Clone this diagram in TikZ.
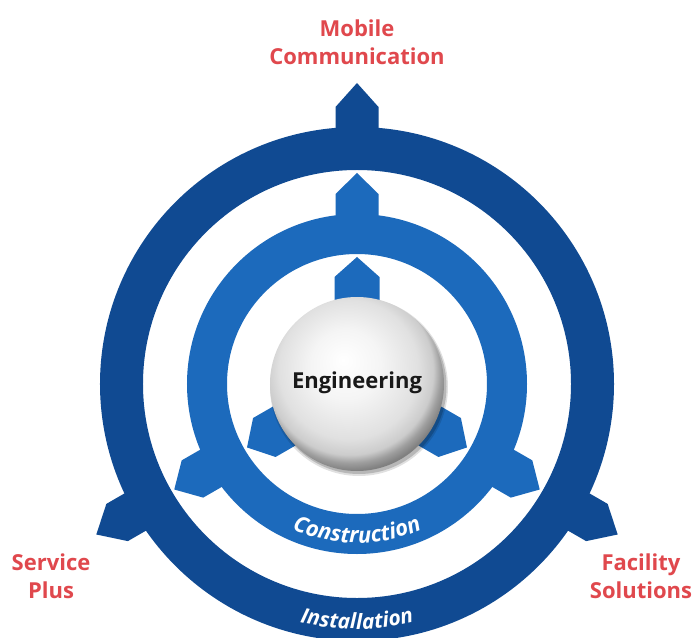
\documentclass[tikz,border=0pt]{standalone}
\usepackage{fontspec}
\setmainfont{Open Sans}
\usetikzlibrary{decorations.text}
\definecolor{outerblue}{RGB}{16,74,146}
\definecolor{midblue}{RGB}{28,106,188}
\definecolor{labelred}{RGB}{224,72,77}
\pgfdeclareradialshading{sphere}{\pgfpoint{-4bp}{7bp}}{color(0bp)=(white); color(10bp)=(black!4); color(20bp)=(black!12); color(24bp)=(black!20); color(26bp)=(black!38); color(28bp)=(black!50); color(50bp)=(black!50)}
\newcommand\housetab[6]{\fill[#1, rotate=#2] (#3pt,-#6pt) -- (#4pt,-#6pt) -- (#5pt,0pt) -- (#4pt,#6pt) -- (#3pt,#6pt) -- cycle;}
\newcommand\ringfontA{\fontsize{22}{22}\selectfont\bfseries\itshape}
\newcommand\ringfontB{\fontsize{21}{21}\selectfont\bfseries\itshape}
\tikzset{
  outerring/.style={draw=outerblue, line width=43pt},
  midring/.style={draw=midblue, line width=40pt},
  redlabel/.style={align=center, text=labelred, font=\bfseries\fontsize{22}{28}\selectfont, inner sep=0pt},
  ringtext/.style 2 args={decorate, decoration={text along path, text align=center, text color=white, text={|#1|#2}}}
}
\begin{document}
\begin{tikzpicture}
\useasboundingbox (-357pt,-253pt) rectangle (338pt,384pt);
\fill[white] (-357pt,-253pt) rectangle (338pt,384pt);
\clip (-357pt,-253pt) rectangle (338pt,384pt);
% outer ring
\draw[outerring] (0,0) circle[radius=235.5pt];
\foreach \a in {90,210,330}{\housetab{outerblue}{\a}{230}{277}{301}{21.5}}
% middle ring
\draw[midring] (0,0) circle[radius=150pt];
\foreach \a in {90,210,330}{\housetab{midblue}{\a}{145}{190}{211}{21.5}}
% inner tabs
\foreach \a in {90,210,330}{\housetab{midblue}{\a}{60}{107}{127}{22.5}}
% centre sphere
\fill[black, opacity=0.12] (2pt,-3pt) circle[radius=89pt];
\fill[black, opacity=0.18] (2pt,-2.5pt) circle[radius=87.5pt];
\node[circle, minimum size=174pt, inner sep=0pt, shading=sphere] (engcircle) at (0,0) {};
\node[font=\bfseries\fontsize{22}{22}\selectfont, inner sep=0pt, text=black!90] (eng) at (0pt,1pt) {Engineering};
% ring texts
\path[ringtext={\ringfontA}{Construction}] (228:159pt) arc[start angle=228, end angle=312, radius=159pt];
\path[ringtext={\ringfontB}{Installation}] (238:245pt) arc[start angle=238, end angle=302, radius=245pt];
% labels
\node[redlabel] (mobile) at (0pt,342pt) {Mobile\\Communication};
\node[redlabel] (service) at (-306pt,-192pt) {Service\\Plus};
\node[redlabel] (facility) at (284pt,-192pt) {Facility\\Solutions};
\end{tikzpicture}
\end{document}
